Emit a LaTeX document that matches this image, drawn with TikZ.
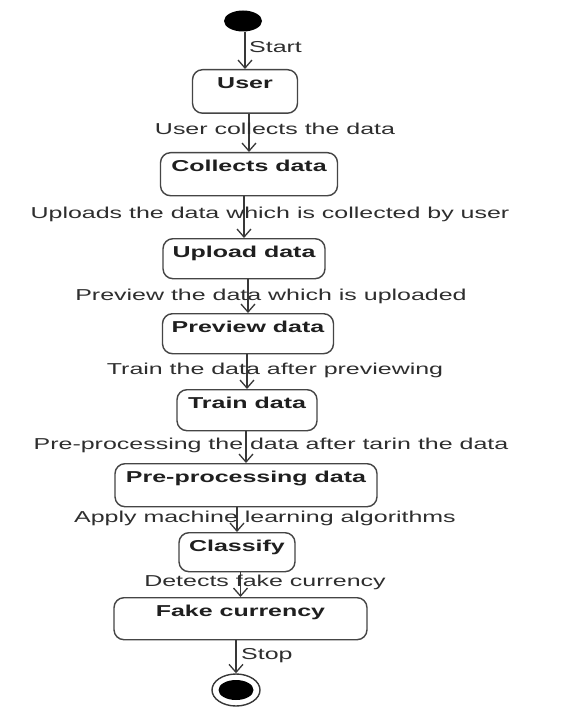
\documentclass[tikz,border=0pt]{standalone}
\usepackage{fontspec}
\setmainfont{Liberation Sans}[FakeStretch=1.58]
\usetikzlibrary{arrows.meta,shapes.geometric}
\definecolor{boxgray}{HTML}{454545}
\definecolor{linegray}{HTML}{383838}
\definecolor{labelgray}{HTML}{2E2E2E}
\tikzset{
  actbox/.style={draw=boxgray,line width=1.4pt,rounded corners=10pt,fill=white,
    inner sep=0pt,anchor=north,text height=19pt,
    font=\fontsize{15.8pt}{18pt}\selectfont\bfseries,text=black!88},
  lbl/.style={inner sep=0pt,text height=11pt,text depth=3pt,text=labelgray,
    font=\fontsize{15.8pt}{18pt}\selectfont},
  flow/.style={draw=linegray,line width=1.3pt,-{Straight Barb[length=8pt,width=14pt]}},
}
\begin{document}
\begin{tikzpicture}[x=1pt,y=-1pt]
\useasboundingbox[fill=white] (0,0) rectangle (587,722);
% Drawing initial and final states
\node[ellipse,fill=black,inner sep=0pt,minimum width=38pt,minimum height=21pt] (init) at (243,21) {};
\node[ellipse,draw=linegray,line width=1.4pt,inner sep=0pt,minimum width=48pt,minimum height=32pt] (final) at (236,690) {};
\node[ellipse,fill=black,inner sep=0pt,minimum width=35pt,minimum height=20pt] (finaldot) at (final.center) {};
% Drawing activities
\node[actbox,minimum width=105pt,text depth=24.5pt] (user) at (245,69) {User};
\node[actbox,minimum width=177pt,text depth=24pt] (collects) at (249,152) {Collects data};
\node[actbox,minimum width=162pt,text depth=21pt] (upload) at (244,238) {Upload data};
\node[actbox,minimum width=171pt,text depth=21pt] (preview) at (248,313) {Preview data};
\node[actbox,minimum width=140pt,text depth=22pt] (train) at (247,389) {Train data};
\node[actbox,minimum width=262pt,text depth=24pt] (preproc) at (246,463) {Pre-processing data};
\node[actbox,minimum width=116pt,text depth=20pt] (classify) at (237,532) {Classify};
\node[actbox,minimum width=253pt,text depth=23pt] (fake) at (240.5,597) {Fake currency};
% Done with activities; drawing transitions
\draw[flow] (user.north |- init.south) -- (user.north);
\draw[flow] (collects.north |- user.south) -- (collects.north);
\draw[flow] (upload.north |- collects.south) -- (upload.north);
\draw[flow] (preview.north |- upload.south) -- (preview.north);
\draw[flow] (train.north |- preview.south) -- (train.north);
\draw[flow] (preproc.north |- train.south) -- (preproc.north);
\draw[flow] (classify.north |- preproc.south) -- (classify.north);
\draw[flow] (fake.north |- classify.south) -- (fake.north);
\draw[flow] (final.north |- fake.south) -- (final.north);
% Done with transitions; drawing labels
\node[lbl,anchor=west] (lstart) at (249,49) {Start};
\node[lbl] (lcollect) at (275,131) {User collects the data};
\node[lbl] (lupload) at (270,214) {Uploads the data which is collected by user};
\node[lbl] (lpreview) at (271,296) {Preview the data which is uploaded};
\node[lbl] (ltrain) at (275,370) {Train the data after previewing};
\node[lbl] (lpreproc) at (271,445) {Pre-processing the data after tarin the data};
\node[lbl] (lapply) at (265,518) {Apply machine learning algorithms};
\node[lbl] (ldetect) at (265,582) {Detects fake currency};
\node[lbl,anchor=west] (lstop) at (241,655) {Stop};
% Done with labels
\end{tikzpicture}
\end{document}
